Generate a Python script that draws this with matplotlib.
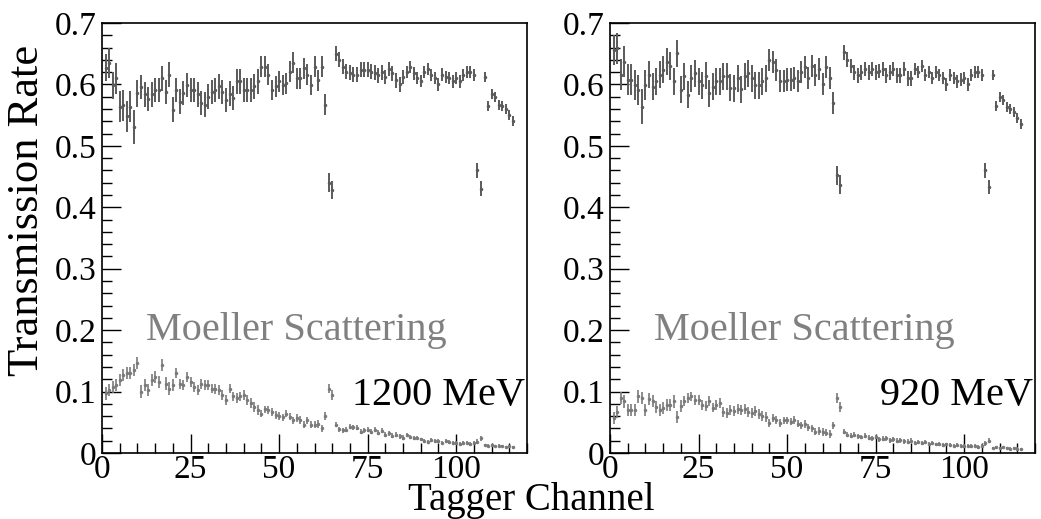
import matplotlib
matplotlib.use("Agg")
import matplotlib.pyplot as plt
from matplotlib.ticker import MultipleLocator, FuncFormatter
import numpy as np

plt.rcParams['font.family'] = ['Liberation Serif', 'DejaVu Serif']

# channels 1..116
channels = np.arange(1, 117)

# 1200 MeV, upper series (transmission)
up_1200 = [0.627, 0.635, 0.599, 0.610, 0.564, 0.566, 0.548, 0.564, 0.531, 0.586,
           0.596, 0.584, 0.576, 0.584, 0.591, 0.591, 0.610, 0.588, 0.616, 0.559,
           0.591, 0.572, 0.586, 0.599, 0.591, 0.591, 0.584, 0.570, 0.567, 0.580,
           0.588, 0.591, 0.597, 0.588, 0.575, 0.585, 0.578, 0.605, 0.605, 0.591,
           0.591, 0.591, 0.597, 0.605, 0.629, 0.629, 0.616, 0.591, 0.597, 0.605,
           0.599, 0.602, 0.621, 0.635, 0.610, 0.610, 0.626, 0.616, 0.599, 0.629,
           0.607, 0.629, 0.567, 0.440, 0.428, 0.650, 0.640, 0.629, 0.621, 0.619,
           0.616, 0.616, 0.624, 0.624, 0.624, 0.621, 0.619, 0.615, 0.620, 0.612,
           0.625, 0.618, 0.607, 0.600, 0.612, 0.620, 0.628, 0.618, 0.610, 0.606,
           0.620, 0.625, 0.615, 0.610, 0.600, 0.616, 0.612, 0.610, 0.605, 0.610,
           0.605, 0.615, 0.620, 0.620, 0.615, 0.460, 0.430, 0.612, 0.565, 0.585,
           0.580, 0.567, 0.565, 0.560, 0.550, 0.540]
up_1200_err = [0.022, 0.025, 0.022, 0.025, 0.025, 0.025, 0.025, 0.025, 0.028, 0.022] + \
              [0.020] * 34 + [0.017] * 19 + [0.015, 0.015] + [0.012] * 20 + \
              [0.010] * 20 + [0.012, 0.012] + [0.008] * 9

# 1200 MeV, lower series (Moeller scattering)
lo_1200 = [0.097, 0.103, 0.108, 0.111, 0.119, 0.127, 0.130, 0.130, 0.135, 0.146,
           0.100, 0.111, 0.103, 0.119, 0.124, 0.116, 0.143, 0.113, 0.105, 0.111,
           0.130, 0.113, 0.111, 0.124, 0.116, 0.108, 0.103, 0.113, 0.111, 0.111,
           0.105, 0.104, 0.103, 0.094, 0.086, 0.105, 0.092, 0.089, 0.092, 0.094,
           0.086, 0.081, 0.075, 0.070, 0.064, 0.071, 0.070, 0.067, 0.062, 0.060,
           0.058, 0.064, 0.059, 0.053, 0.057, 0.054, 0.046, 0.053, 0.046, 0.046,
           0.047, 0.040, 0.060, 0.105, 0.094, 0.046, 0.039, 0.037, 0.038, 0.043,
           0.042, 0.041, 0.035, 0.037, 0.038, 0.035, 0.038, 0.033, 0.036, 0.030,
           0.032, 0.028, 0.030, 0.027, 0.025, 0.029, 0.026, 0.024, 0.025, 0.022,
           0.020, 0.018, 0.021, 0.020, 0.019, 0.017, 0.019, 0.018, 0.016, 0.017,
           0.015, 0.016, 0.017, 0.015, 0.016, 0.018, 0.024, 0.013, 0.012, 0.013,
           0.011, 0.012, 0.011, 0.010, 0.011, 0.009]
lo_1200_err = [0.010] * 20 + [0.008] * 24 + [0.006] * 19 + [0.008, 0.008] + \
              [0.004] * 20 + [0.003] * 20 + [0.004, 0.004] + [0.002] * 9

# 920 MeV, upper series
up_920 = [0.656, 0.659, 0.616, 0.637, 0.608, 0.608, 0.599, 0.591, 0.564, 0.599,
          0.616, 0.596, 0.605, 0.616, 0.624, 0.637, 0.630, 0.605, 0.651, 0.591,
          0.613, 0.583, 0.610, 0.618, 0.605, 0.599, 0.614, 0.586, 0.596, 0.605,
          0.605, 0.613, 0.613, 0.595, 0.594, 0.610, 0.592, 0.613, 0.618, 0.610,
          0.599, 0.599, 0.605, 0.610, 0.640, 0.637, 0.624, 0.605, 0.605, 0.608,
          0.608, 0.610, 0.605, 0.620, 0.628, 0.610, 0.630, 0.615, 0.625, 0.600,
          0.628, 0.610, 0.570, 0.452, 0.437, 0.652, 0.640, 0.630, 0.620, 0.615,
          0.620, 0.625, 0.620, 0.625, 0.620, 0.622, 0.625, 0.615, 0.620, 0.625,
          0.615, 0.615, 0.625, 0.610, 0.610, 0.625, 0.620, 0.630, 0.615, 0.620,
          0.610, 0.620, 0.615, 0.610, 0.600, 0.615, 0.610, 0.605, 0.608, 0.610,
          0.600, 0.615, 0.620, 0.620, 0.615, 0.460, 0.433, 0.615, 0.565, 0.580,
          0.575, 0.563, 0.560, 0.555, 0.545, 0.535]
up_920_err = [0.025, 0.025, 0.025, 0.025, 0.025, 0.025, 0.025, 0.025, 0.028, 0.025] + \
             [0.022] * 34 + [0.018] * 19 + [0.015, 0.015] + [0.012] * 20 + \
             [0.010] * 20 + [0.012, 0.012] + [0.008] * 9

# 920 MeV, lower series
lo_920 = [0.057, 0.067, 0.089, 0.084, 0.070, 0.070, 0.070, 0.092, 0.089, 0.070,
          0.088, 0.085, 0.075, 0.070, 0.073, 0.078, 0.078, 0.084, 0.059, 0.077,
          0.084, 0.089, 0.092, 0.086, 0.086, 0.078, 0.077, 0.085, 0.074, 0.078,
          0.082, 0.067, 0.065, 0.070, 0.069, 0.071, 0.070, 0.071, 0.067, 0.065,
          0.069, 0.064, 0.060, 0.058, 0.049, 0.057, 0.054, 0.049, 0.053, 0.053,
          0.051, 0.054, 0.048, 0.045, 0.047, 0.042, 0.040, 0.035, 0.036, 0.034,
          0.033, 0.031, 0.045, 0.090, 0.075, 0.035, 0.030, 0.028, 0.030, 0.027,
          0.026, 0.028, 0.025, 0.024, 0.026, 0.022, 0.023, 0.024, 0.021, 0.022,
          0.020, 0.021, 0.019, 0.018, 0.020, 0.017, 0.018, 0.016, 0.018, 0.015,
          0.016, 0.014, 0.015, 0.013, 0.014, 0.013, 0.012, 0.013, 0.012, 0.011,
          0.012, 0.011, 0.012, 0.010, 0.012, 0.016, 0.020, 0.008, 0.009, 0.008,
          0.009, 0.008, 0.007, 0.008, 0.007, 0.006]
lo_920_err = [0.010] * 20 + [0.008] * 24 + [0.006] * 19 + [0.008, 0.008] + \
             [0.004] * 20 + [0.003] * 20 + [0.004, 0.004] + [0.002] * 9

energies = ["1200 MeV", "920 MeV"]

W, H = 1041, 519
fig = plt.figure(figsize=(W / 100, H / 100), dpi=100)
ax1 = fig.add_axes([102 / W, 66 / H, 425 / W, 430 / H])
ax2 = fig.add_axes([610 / W, 66 / H, 425 / W, 430 / H])


def style_axis(ax):
    ax.set_xlim(0, 120)
    ax.set_ylim(0, 0.7)
    ax.xaxis.set_major_locator(MultipleLocator(25))
    ax.xaxis.set_minor_locator(MultipleLocator(5))
    ax.yaxis.set_major_locator(MultipleLocator(0.1))
    ax.yaxis.set_minor_locator(MultipleLocator(0.02))
    ax.yaxis.set_major_formatter(FuncFormatter(lambda v, p: "%g" % round(v, 2)))
    ax.tick_params(which='both', direction='in', top=False, right=False,
                   labelsize=24, width=1.0, color='black')
    ax.tick_params(which='major', length=13.5)
    ax.tick_params(which='minor', length=7.2)
    ax.tick_params(axis='y', pad=4)
    ax.tick_params(axis='x', pad=1)
    for s in ax.spines.values():
        s.set_linewidth(1.2)


for ax, up, upe, lo, loe, lab in [(ax1, up_1200, up_1200_err, lo_1200, lo_1200_err, energies[0]),
                                  (ax2, up_920, up_920_err, lo_920, lo_920_err, energies[1])]:
    style_axis(ax)
    ax.errorbar(channels, up, yerr=upe, fmt='.', ms=3, color='#5a5a5a',
                elinewidth=1.4, capsize=0)
    ax.errorbar(channels, lo, yerr=loe, fmt='.', ms=3, color='#7a7a7a',
                elinewidth=1.2, capsize=0)
    ax.text(12.5, 0.184, "Moeller Scattering", fontsize=29, color='#808080',
            ha='left', va='baseline')
    ax.text(119.5, 0.078, lab, fontsize=29, color='black', ha='right', va='baseline')

fig.text(27 / W, 1 - 210 / H, "Transmission Rate", rotation=90, fontsize=32,
         ha='center', va='center')
fig.text(0.51, 0, "Tagger Channel", fontsize=28, ha='center', va='bottom')

fig.savefig("out.png", dpi=100)
